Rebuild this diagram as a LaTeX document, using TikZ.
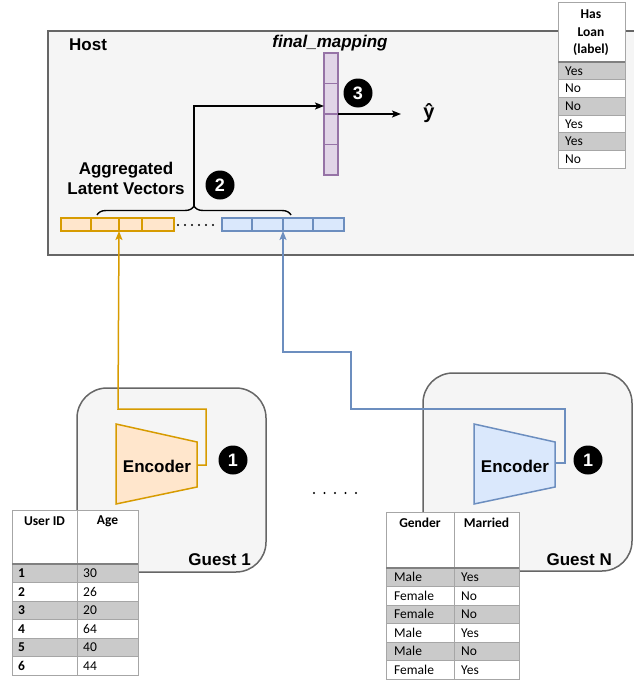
\documentclass[tikz,border=0pt]{standalone}
\usepackage{fontspec}
\setmainfont{Liberation Sans}
\newfontfamily\tabfont{Carlito}
\usetikzlibrary{decorations.pathreplacing,arrows.meta}

\definecolor{panelfill}{HTML}{F5F5F5}
\definecolor{panelline}{HTML}{666666}
\definecolor{orfill}{HTML}{FFE6CC}
\definecolor{orline}{HTML}{D79B00}
\definecolor{blfill}{HTML}{DAE8FC}
\definecolor{blline}{HTML}{6C8EBF}
\definecolor{pufill}{HTML}{E1D5E7}
\definecolor{puline}{HTML}{9673A6}
\definecolor{rowgray}{HTML}{CACACA}
\definecolor{gridline}{HTML}{A6A6A6}
\definecolor{hdrline}{HTML}{808080}

\tikzset{
  panel/.style={fill=panelfill, draw=panelline, line width=1.5pt},
  lbl/.style={font=\bfseries\fontsize{17}{20}\selectfont, inner sep=0pt},
  badge/.style={circle, fill=black, text=white, minimum size=29pt, inner sep=0pt,
    font=\bfseries\fontsize{18}{18}\selectfont},
  ocell/.style={fill=orfill, draw=orline, line width=1.3pt},
  bcell/.style={fill=blfill, draw=blline, line width=1.3pt},
  pcell/.style={fill=pufill, draw=puline, line width=1.3pt},
  tip/.style={-{Stealth[length=9pt,width=7pt,inset=2pt]}},
  olink/.style={draw=orline, line width=1.5pt, tip},
  blink/.style={draw=blline, line width=1.5pt, tip},
  klink/.style={draw=black, line width=1.5pt, tip},
  tabgrid/.style={draw=gridline, line width=0.9pt},
  tabhdr/.style={draw=hdrline, line width=1.6pt},
  thead/.style={font=\tabfont\bfseries\fontsize{13.5}{17.5}\selectfont, inner sep=0pt, align=center},
  tcell/.style={font=\tabfont\fontsize{13.5}{16}\selectfont, inner sep=0pt, anchor=west},
  dotrow/.style={line width=2.2pt, line cap=round, dash pattern=on 0pt off #1},
}

\begin{document}
\begin{tikzpicture}[x=1pt,y=-1pt]
\useasboundingbox (0,0) rectangle (633,680);

% ---------------- host panel ----------------
\draw[panel] (48,31) rectangle (680,255);
\node[lbl, anchor=west] (host) at (69,45) {Host};
\node[lbl, font=\bfseries\itshape\fontsize{17}{20}\selectfont] (fmlabel) at (330,43) {final\_mapping};

% final mapping vector
\foreach \k in {0,...,3}
  \draw[pcell] (324,{53+\k*30.5}) rectangle (338,{53+(\k+1)*30.5});
\coordinate (fmin) at (324,106);
\coordinate (fmout) at (338,114);
\coordinate (yend) at (401,114);
\node[badge] (b3) at (358,93) {3};
\node[font=\bfseries\fontsize{20}{20}\selectfont, inner sep=0pt] (yhat) at (429,113) {ŷ};
\draw[klink] (fmout) -- (yend);

% aggregated latent vectors
\node[lbl, align=center, font=\bfseries\fontsize{17}{20}\selectfont] (agg) at (126,178) {Aggregated\\Latent Vectors};
\node[badge] (b2) at (220,185) {2};

\draw[ocell] (61,218) rectangle (91,231);
\draw[ocell] (91,218) rectangle (119,231);
\draw[ocell] (119,218) rectangle (142,231);
\draw[ocell] (142,218) rectangle (174,231);
\draw[dotrow=7pt] (178,225) -- (213.5,225);
\draw[bcell] (222,218) rectangle (252,231);
\draw[bcell] (252,218) rectangle (283,231);
\draw[bcell] (283,218) rectangle (313,231);
\draw[bcell] (313,218) rectangle (344,231);
\coordinate (ovin) at (119,231);
\coordinate (bvin) at (283,231);

\draw[decorate, decoration={brace, amplitude=9pt}, line width=1.4pt] (97,215) -- (291,215);
\coordinate (bracetip) at (194,206);
\draw[klink] (bracetip) -- (194,106) -- (fmin);

% ---------------- label table ----------------
\fill[white] (558,2) rectangle (625,168);
\foreach \r in {0,2,4}
  \fill[rowgray] (558,{62+\r*17.7}) rectangle (625,{62+(\r+1)*17.7});
\foreach \r in {1,...,5}
  \draw[tabgrid] (558,{62+\r*17.7}) -- (625,{62+\r*17.7});
\draw[tabgrid] (558,2) rectangle (625,168);
\draw[tabhdr] (558,62) -- (625,62);
\node[thead] (lblhead) at (591,33) {Has\\Loan\\(label)};
\foreach \r/\v in {1/Yes,2/No,3/No,4/Yes,5/Yes,6/No}
  \node[tcell] at (565,{62+(\r-0.5)*17.7}) {\v};

% ---------------- guest 1 ----------------
\draw[panel, rounded corners=30pt] (77,388) rectangle (266,572);
\node[lbl, anchor=south east] (g1) at (251,566) {Guest 1};
\draw[ocell, line width=1.5pt] (116,424) -- (197,442) -- (197,487) -- (116,504) -- cycle;
\node[lbl] (enc1) at (157,466) {Encoder};
\coordinate (enc1out) at (197,465);
\node[badge] (b1a) at (233,460) {1};
\draw[olink] (enc1out) -- (206,465) -- (206,409) -- (118,409) -- (ovin);

% guest 1 table
\fill[white] (12,510) rectangle (138,675);
\foreach \r in {0,2,4}
  \fill[rowgray] (12,{564+\r*18.5}) rectangle (138,{564+(\r+1)*18.5});
\foreach \r in {1,...,5}
  \draw[tabgrid] (12,{564+\r*18.5}) -- (138,{564+\r*18.5});
\draw[tabgrid] (12,510) rectangle (138,675);
\draw[tabgrid] (77,510) -- (77,675);
\draw[tabhdr] (12,564) -- (138,564);
\node[thead] (uid) at (44.5,521) {User ID};
\node[thead] (age) at (107.5,521) {Age};
\foreach \r/\u/\a in {1/1/30,2/2/26,3/3/20,4/4/64,5/5/40,6/6/44} {
  \node[tcell, font=\tabfont\bfseries\fontsize{13.5}{16}\selectfont] at (18,{564+(\r-0.5)*18.5}) {\u};
  \node[tcell] at (83,{564+(\r-0.5)*18.5}) {\a};
}

% ---------------- between guests ----------------
\draw[dotrow=10.5pt] (314,493) -- (356.5,493);

% ---------------- guest N ----------------
\draw[panel, rounded corners=30pt] (423,373) rectangle (632,571);
\node[lbl, anchor=south east] (gn) at (612,566) {Guest N};
\draw[bcell, line width=1.5pt] (474,424) -- (555,442) -- (555,487) -- (474,504) -- cycle;
\node[lbl] (enc2) at (515,466) {Encoder};
\coordinate (enc2out) at (555,463);
\node[badge] (b1b) at (588,460) {1};
\draw[blink] (enc2out) -- (565,463) -- (565,409) -- (351,409) -- (351,352) -- (283,352) -- (bvin);

% guest N table
\fill[white] (386,512) rectangle (519,679);
\foreach \r in {0,2,4}
  \fill[rowgray] (386,{568+\r*18.5}) rectangle (519,{568+(\r+1)*18.5});
\foreach \r in {1,...,5}
  \draw[tabgrid] (386,{568+\r*18.5}) -- (519,{568+\r*18.5});
\draw[tabgrid] (386,512) rectangle (519,679);
\draw[tabgrid] (454,512) -- (454,679);
\draw[tabhdr] (386,568) -- (519,568);
\node[thead] (gender) at (420,523) {Gender};
\node[thead] (married) at (486.5,523) {Married};
\foreach \r/\g/\m in {1/Male/Yes,2/Female/No,3/Female/No,4/Male/Yes,5/Male/No,6/Female/Yes} {
  \node[tcell] at (394,{568+(\r-0.5)*18.5}) {\g};
  \node[tcell] at (461,{568+(\r-0.5)*18.5}) {\m};
}
\end{tikzpicture}
\end{document}
